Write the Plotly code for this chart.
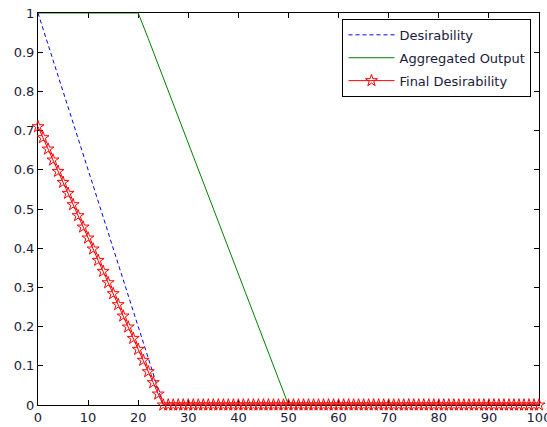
import plotly.graph_objects as go

# ---- data ----
x_desir = [0, 5, 10, 15, 20, 25, 100]
y_desir = [1.0, 0.80, 0.60, 0.40, 0.20, 0.0, 0.0]

x_agg = [0, 20, 22, 24, 26, 28, 30, 32, 34, 36, 38, 40, 42, 44, 46, 48, 50, 100]
y_agg = [1.0, 1.0, 0.935, 0.868, 0.80, 0.733, 0.668, 0.60, 0.533, 0.468, 0.40, 0.335, 0.268, 0.20, 0.133, 0.067, 0.0, 0.0]

x_final = list(range(0, 101))
y_final = [0.71, 0.682, 0.653, 0.625, 0.596, 0.568, 0.540, 0.511, 0.483, 0.454,
           0.426, 0.398, 0.369, 0.341, 0.312, 0.284, 0.256, 0.227, 0.199, 0.170,
           0.142, 0.114, 0.085, 0.057, 0.028, 0.0,
           0, 0, 0, 0, 0, 0, 0, 0, 0, 0, 0, 0, 0, 0, 0, 0, 0, 0, 0, 0, 0, 0, 0, 0, 0,
           0, 0, 0, 0, 0, 0, 0, 0, 0, 0, 0, 0, 0, 0, 0, 0, 0, 0, 0, 0, 0, 0, 0, 0, 0,
           0, 0, 0, 0, 0, 0, 0, 0, 0, 0, 0, 0, 0, 0, 0, 0, 0, 0, 0, 0, 0, 0, 0, 0, 0]

x_ticks = [0, 10, 20, 30, 40, 50, 60, 70, 80, 90, 100]
y_ticks = [0, 0.1, 0.2, 0.3, 0.4, 0.5, 0.6, 0.7, 0.8, 0.9, 1]
y_tick_text = ["0", "0.1", "0.2", "0.3", "0.4", "0.5", "0.6", "0.7", "0.8", "0.9", "1"]

FONT = "DejaVu Sans, Verdana, sans-serif"
TXT = "#1a1a3a"

fig = go.Figure()
fig.add_trace(go.Scatter(
    x=x_desir, y=y_desir, mode="lines", name="Desirability", legendgroup="a",
    line=dict(color="rgb(0,0,255)", width=1, dash="4px,3px"),
))
fig.add_trace(go.Scatter(
    x=x_agg, y=y_agg, mode="lines", name="Aggregated Output", legendgroup="b",
    line=dict(color="rgb(0,128,0)", width=1),
))
fig.add_trace(go.Scatter(
    x=x_final, y=y_final, mode="lines+markers", name="Final Desirability", legendgroup="c",
    line=dict(color="rgb(255,0,0)", width=1),
    marker=dict(symbol="star-open", size=9, color="rgb(255,0,0)",
                line=dict(color="rgb(255,0,0)", width=1)),
    cliponaxis=False,
))

axis_common = dict(
    showgrid=False, zeroline=False, showline=True, linecolor="black", linewidth=1,
    mirror="allticks", ticks="inside", ticklen=5, tickcolor="black", tickwidth=1,
    tickfont=dict(family=FONT, size=13, color=TXT),
    layer="below traces", automargin=False, ticklabeloverflow="allow",
)

fig.update_layout(
    width=547, height=427,
    margin=dict(l=38, r=8, t=13, b=22),
    paper_bgcolor="white", plot_bgcolor="white",
    xaxis=dict(range=[0, 100.0001], tickvals=x_ticks, ticktext=[str(v) for v in x_ticks], **axis_common),
    yaxis=dict(range=[0, 1.00001], tickvals=y_ticks, ticktext=y_tick_text, **axis_common),
    legend=dict(
        x=0.985, y=0.985, xanchor="right", yanchor="top",
        bgcolor="white", bordercolor="black", borderwidth=1,
        font=dict(family=FONT, size=13, color=TXT),
        tracegroupgap=3, itemwidth=46,
    ),
    showlegend=True,
)

fig.write_html(
    "out.html",
    config={"displayModeBar": False},
    post_script="document.body.style.margin='0px';document.body.style.overflow='hidden';",
)
